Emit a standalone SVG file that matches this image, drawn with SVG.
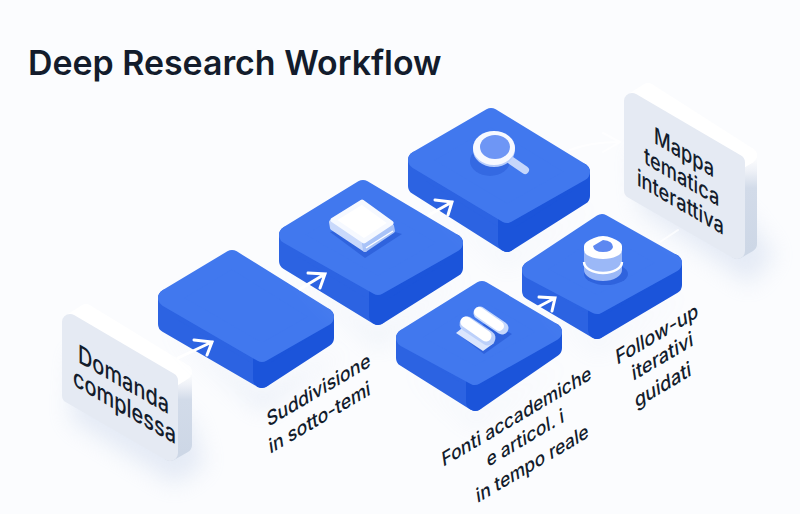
<svg xmlns="http://www.w3.org/2000/svg" width="800" height="514" viewBox="0 0 800 514">
<defs>
<filter id="blur" x="-40%" y="-40%" width="180%" height="180%"><feGaussianBlur stdDeviation="11"/></filter>
<linearGradient id="side" x1="0" y1="0" x2="0" y2="1"><stop offset="0" stop-color="#ffffff"/><stop offset=".16" stop-color="#eef1f7"/><stop offset=".34" stop-color="#d2dbe9"/><stop offset="1" stop-color="#cdd7e6"/></linearGradient>
</defs>
<style>
text{font-family:"Inter","Liberation Sans",sans-serif;fill:#131c2c}
.title{font-size:33.9px;font-weight:600}
.card-t{font-size:24px;font-weight:500}
.card-m{font-size:22px;font-weight:500}
.lab{font-size:20px;font-weight:500}
.shadow{fill:#b7c7e4;opacity:.32;filter:url(#blur)}
.t,.l,.r{stroke-width:18;stroke-linejoin:round}
.t{fill:#4178ee;stroke:#4178ee}
.l{fill:#2c63e2;stroke:#2c63e2}
.r{fill:#1b54da;stroke:#1b54da}
.cf,.ct,.cr{stroke-width:16;stroke-linejoin:round}
.cf{fill:#e5eaf3;stroke:#e5eaf3}
.ct{fill:#fff;stroke:#fff}
.cr{fill:url(#side);stroke:url(#side)}
.ar{fill:none;stroke:#fff;stroke-width:3;stroke-linecap:round;stroke-linejoin:miter}
.faint{opacity:.75;stroke-width:2}
.is{fill:#2f63dd}
</style>
<rect width="800" height="514" fill="#fbfcfe"/>
<text class="title" x="28" y="75">Deep Research Workflow</text>

<g id="node-domanda">
<polygon class="shadow" points="75,350 192,420 205,465 175,485 70,420"/>
<polygon class="cr" points="170,380.6 184,372 184,445 170,453"/>
<polygon class="ct" points="70,322 170,380.6 184,372 86,312"/>
<polygon class="cf" points="70,322 170,380.6 170,453 70,395.4"/>
<text class="card-t" transform="matrix(.83,.48,0,1.06,78,362)">Domanda<tspan x="-6" y="24.5">complessa</tspan></text>
</g>

<g id="node-step1">
<polygon class="shadow" points="165,325 262,395 345,350 262,410"/>
<polygon class="l" points="167,298 262,353 262,379 167,324"/>
<polygon class="r" points="262,353 325,317 325,338 262,379"/>
<polygon class="t" points="232,259 325,317 262,353 167,298"/>
</g>

<g id="node-suddivisione">
<polygon class="shadow" points="286,265 378,335 470,270 378,345"/>
<polygon class="l" points="288,235 378,286 378,316 288,261"/>
<polygon class="r" points="378,286 454,243 454,268 378,316"/>
<polygon class="t" points="363,189 454,243 378,286 288,235"/>
<g id="icon-book">
<polygon class="is" points="330,232 365,258 402,234 370,225"/>
<polygon points="331,222 364,244 365,250 332,228" fill="#c9d9fb" stroke="#c9d9fb" stroke-width="4" stroke-linejoin="round"/>
<polygon points="364,244 392,226 393,231 365,250" fill="#a9c3f8" stroke="#a9c3f8" stroke-width="4" stroke-linejoin="round"/>
<polygon points="362,202 391,223 364,241 333,220" fill="#fff" stroke="#f6f9ff" stroke-width="5" stroke-linejoin="round"/>
<path d="M366,248 L393,231" stroke="#fff" stroke-width="1.4" fill="none"/>
</g>
</g>

<g id="node-ricerca">
<polygon class="shadow" points="415,190 507,260 600,200 507,265"/>
<polygon class="l" points="417,160 507,214 507,243 417,186"/>
<polygon class="r" points="507,214 581,172 581,196 507,243"/>
<polygon class="t" points="491,117 581,172 507,214 417,160"/>
<g id="icon-lens">
<ellipse class="is" cx="490" cy="161" rx="20" ry="15" fill-opacity=".7"/>
<path d="M509,159 L525,170" stroke="#c5d6fb" stroke-width="8" stroke-linecap="round"/>
<ellipse cx="494" cy="150" rx="21" ry="17" fill="#b7cdfb"/>
<ellipse cx="494" cy="148" rx="21" ry="17" fill="#f7f9ff"/>
<ellipse cx="495" cy="147" rx="15" ry="12" fill="#6e96f5"/>
</g>
</g>

<g id="node-fonti">
<polygon class="shadow" points="403,365 475,420 570,360 475,425"/>
<polygon class="l" points="405,338 475,376 475,402 405,358"/>
<polygon class="r" points="475,376 553,332 553,348 475,402"/>
<polygon class="t" points="482,290 553,332 475,376 405,338"/>
<g id="icon-docs">
<polygon class="is" points="458,334 484,354 512,334 490,322"/>
<path d="M480,313 L502,328" stroke="#c6d8fc" stroke-width="13" stroke-linecap="round"/>
<path d="M479,312 L499,326" stroke="#fff" stroke-width="10" stroke-linecap="round"/>
<polygon points="456,333 483,351 494,343 466,325" fill="#dbe6fd"/>
<path d="M467,324 L488,338" stroke="#bcd0fa" stroke-width="15" stroke-linecap="round"/>
<path d="M466,322 L486,336" stroke="#fff" stroke-width="11" stroke-linecap="round"/>
</g>
</g>

<g id="node-followup">
<polygon class="shadow" points="529,295 597,345 690,290 597,350"/>
<polygon class="l" points="531,270 597,305 597,330 531,291"/>
<polygon class="r" points="597,305 673,263 673,285 597,330"/>
<polygon class="t" points="602,223 673,263 597,305 531,270"/>
<g id="icon-db">
<ellipse class="is" cx="606" cy="274" rx="22" ry="11"/>
<path d="M584,252 V270 A19,11 0 0 0 622,270 V252 Z" fill="#9bb8f7"/>
<path d="M584,262 A19,11 0 0 0 622,262" fill="none" stroke="#fff" stroke-width="2.4"/>
<path d="M584,246 V250 A19,9 0 0 0 622,250 V246 Q622,242 612,238 Q603,234 594,238 Q584,242 584,246 Z" fill="#fff"/>
<path d="M593,246 L603,240 Q613,241 613,247 Q612,252 603,252 Q594,252 593,246 Z" fill="#5d88f1"/>
</g>
</g>

<g id="node-mappa">
<polygon class="shadow" points="635,150 745,215 775,255 750,285 640,210"/>
<polygon class="cr" points="737,162.5 749,155.5 749,244 737,251"/>
<polygon class="ct" points="632,101 737,162.5 749,155.5 648,91"/>
<polygon class="cf" points="632,101 737,162.5 737,251 632,190.5"/>
<text class="card-m" transform="matrix(.83,.48,0,1.06,654,143)">Mappa<tspan x="-12" y="24.5">tematica</tspan><tspan x="-20.5" y="49">interattiva</tspan></text>
</g>

<g id="connectors">
<path class="ar" d="M178,358 L212,342 M194,340 L212,342 L207,355"/>
<path class="ar" d="M300,289 L325,274 M308,273 L325,274 L320,288"/>
<path class="ar" d="M429,215 L452,202 M435,200 L452,202 L448,215"/>
<path class="ar" d="M538,307 L555,298 M539,297 L555,298 L552,311"/>
<path class="ar faint" d="M570,150 Q590,142 620,142 M603,133 L620,142 L603,152"/>
<path class="ar faint" d="M660,242 L678,230"/>
</g>

<g id="labels">
<text class="lab" style="font-size:19.5px" transform="matrix(.86,-.51,.15,1,268,427)">Suddivisione<tspan x="-2.2" y="26">in sotto-temi</tspan></text>
<text class="lab" style="font-size:19.2px" transform="matrix(.86,-.51,.15,1,443,467)">Fonti accademiche<tspan x="47.7" y="24.5">e articol. i</tspan><tspan x="30.8" y="52">in tempo reale</tspan></text>
<text class="lab" transform="matrix(.86,-.51,.15,1,617,365)">Follow-up<tspan x="14.6" y="23.5">iterativi</tspan><tspan x="13.3" y="50">guidati</tspan></text>
</g>
</svg>
